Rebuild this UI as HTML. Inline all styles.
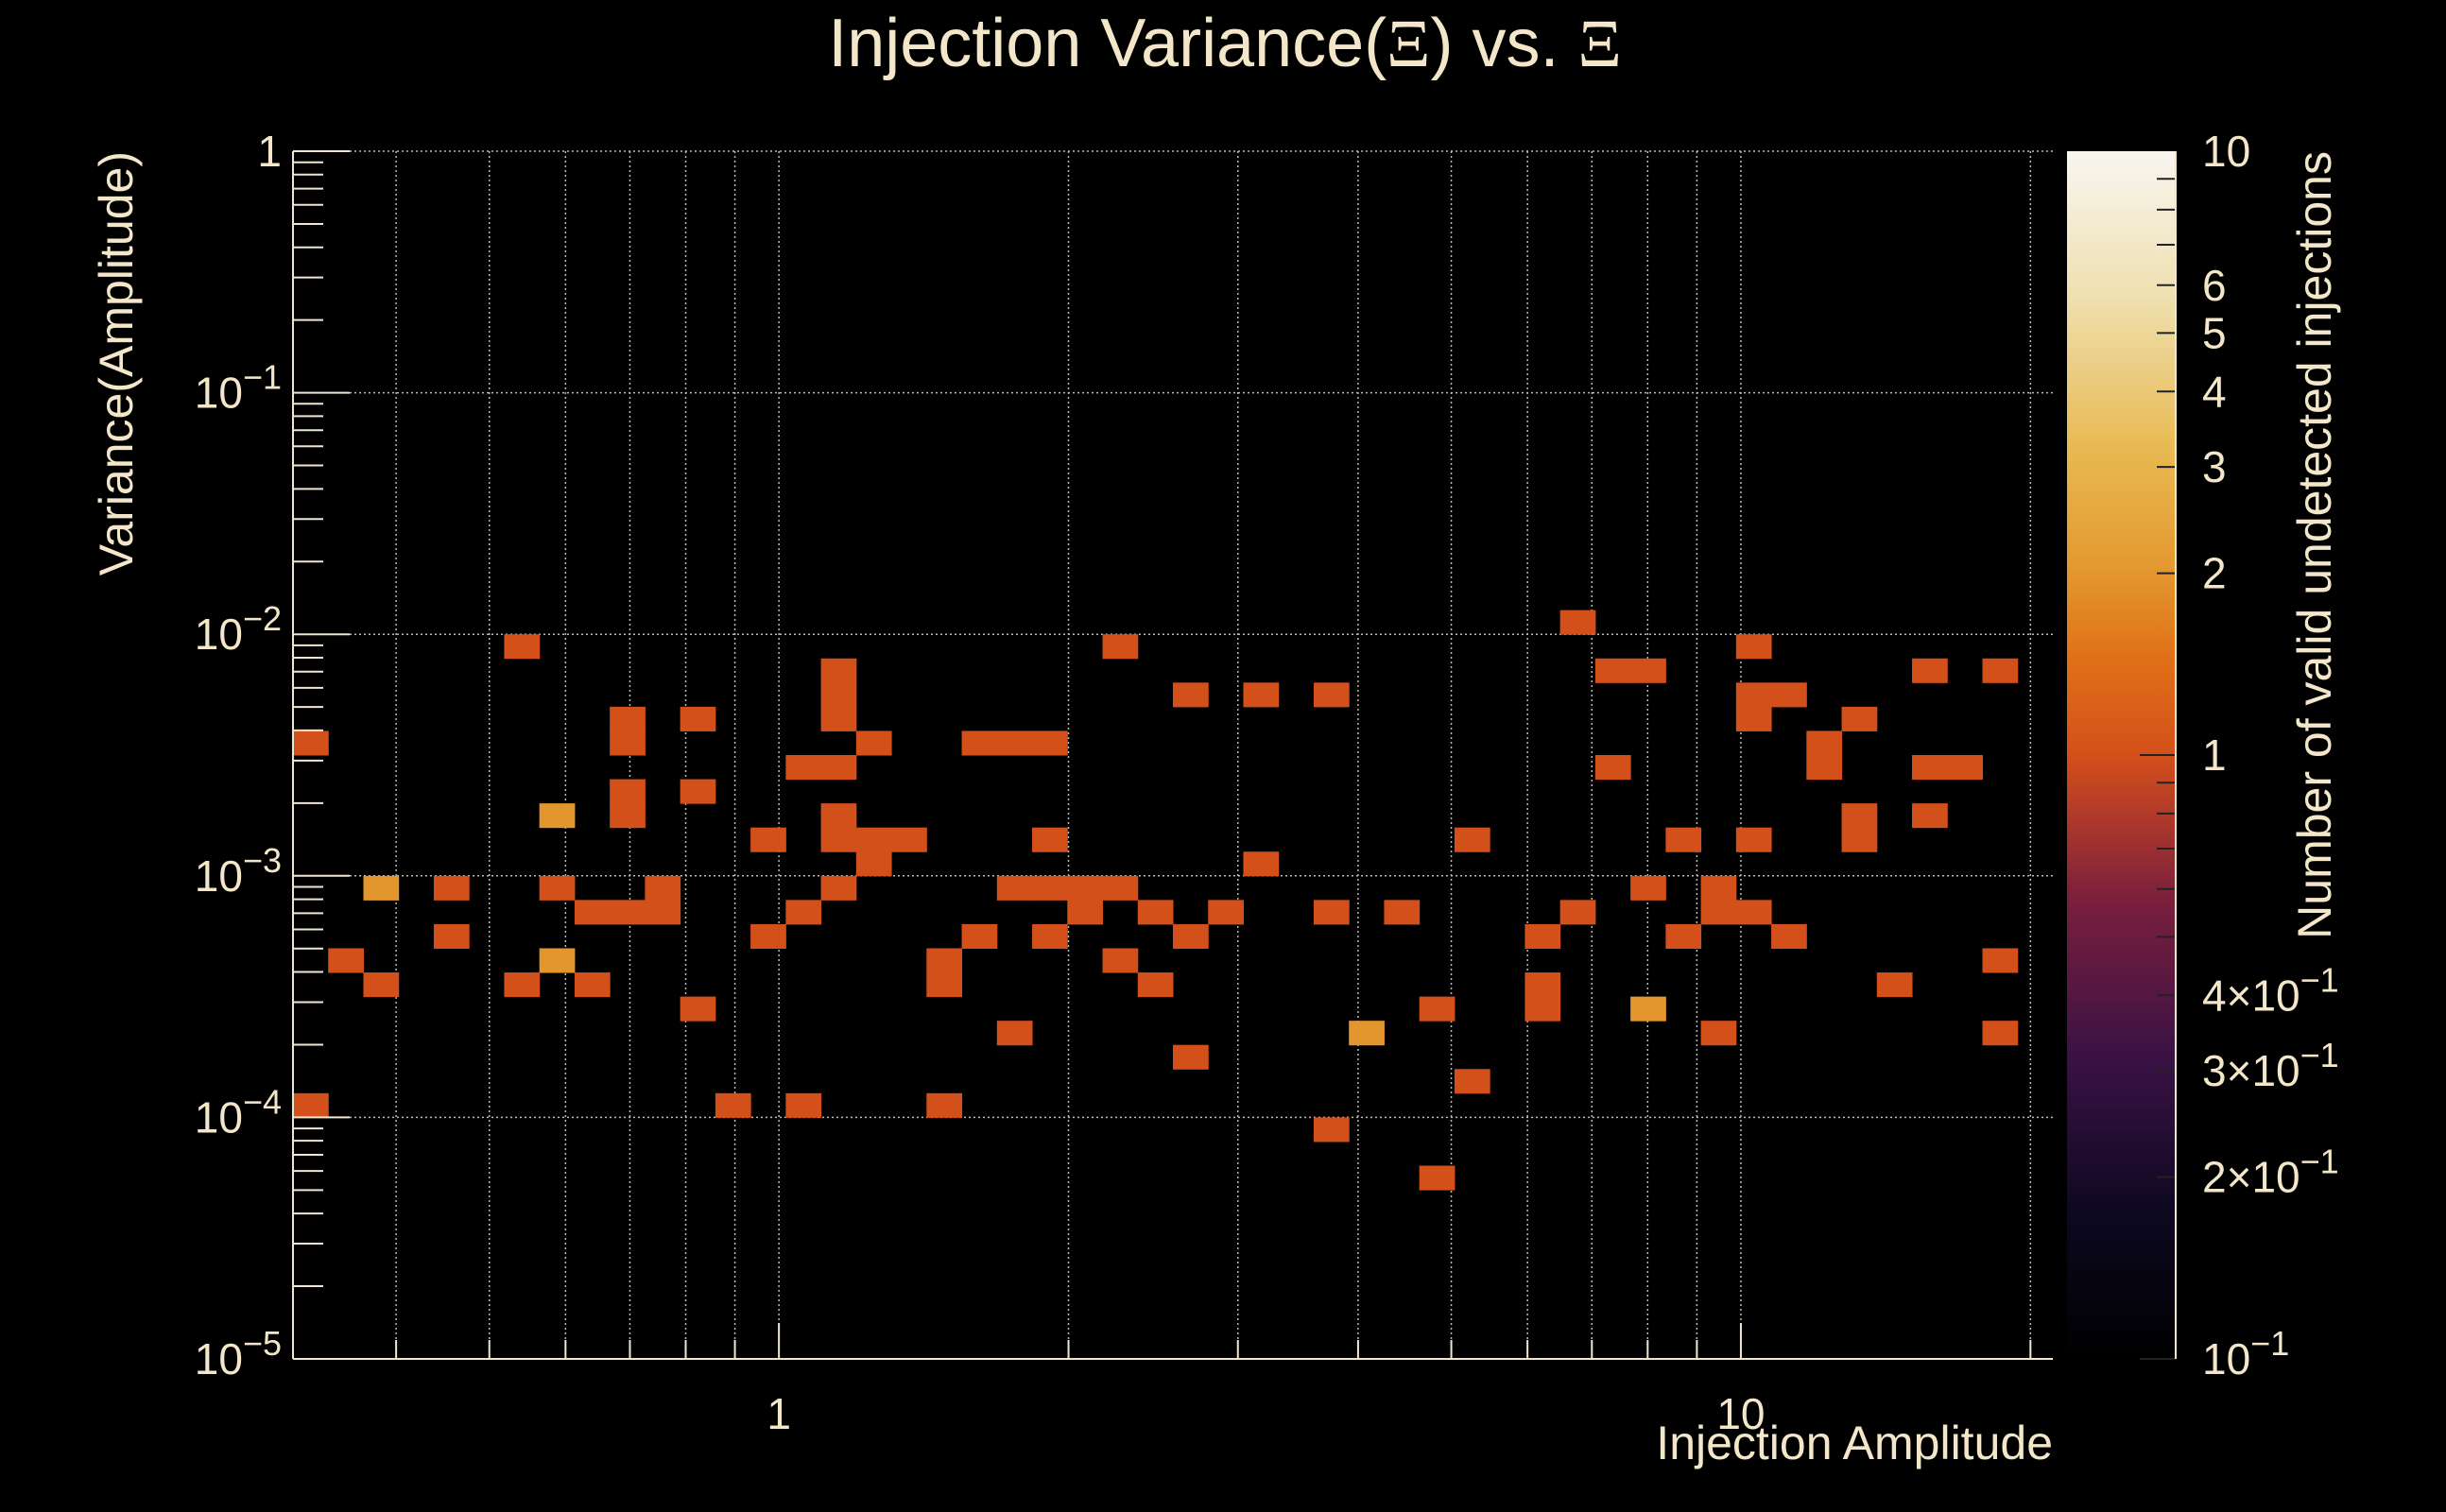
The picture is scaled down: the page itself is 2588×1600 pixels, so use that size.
<!DOCTYPE html>
<html><head><meta charset="utf-8">
<style>
html,body{margin:0;padding:0;background:#000;}
svg{display:block;}
text{font-family:"Liberation Sans",sans-serif;fill:#f3e6c9;}
</style></head>
<body>
<svg id="chart" width="2588" height="1600" viewBox="0 0 2588 1600" xmlns="http://www.w3.org/2000/svg">
<defs>
<linearGradient id="cbgrad" x1="0" y1="1" x2="0" y2="0">
<stop offset="0" stop-color="#000000"/>
<stop offset="0.12" stop-color="#0d0820"/>
<stop offset="0.25" stop-color="#3a1245"/>
<stop offset="0.38" stop-color="#7a1f3c"/>
<stop offset="0.45" stop-color="#b03a2a"/>
<stop offset="0.5" stop-color="#d4501a"/>
<stop offset="0.58" stop-color="#e07018"/>
<stop offset="0.65" stop-color="#e3962e"/>
<stop offset="0.75" stop-color="#e8b850"/>
<stop offset="0.88" stop-color="#efe0b0"/>
<stop offset="1" stop-color="#f8f6f0"/>
</linearGradient>
</defs>
<rect x="0" y="0" width="2588" height="1600" fill="#000"/>
<text x="1296" y="70" font-size="72" text-anchor="middle">Injection Variance(<tspan font-family="Liberation Serif">Ξ</tspan>) vs. <tspan font-family="Liberation Serif">Ξ</tspan></text>
<g id="grid"></g>
<g id="cells"></g>
<g id="axes"></g>
<rect x="2187" y="160" width="115" height="1278" fill="url(#cbgrad)"/>
<g id="cbaxis"></g>
<text x="2172" y="1544" font-size="50" text-anchor="end">Injection Amplitude</text>
<text transform="translate(140,160) rotate(-90)" font-size="50" text-anchor="end">Variance(Amplitude)</text>
<text transform="translate(2466,160) rotate(-90)" font-size="50" text-anchor="end">Number of valid undetected injections</text>
</svg>
<script>
// data: 50x50 log bins; x-bin index, y-bin index (from top), count
const xBin = [0,0,1,2,2,4,4,6,6,7,7,7,8,8,9,9,9,9,9,11,11,11,12,13,13,14,14,14,15,15,15,15,15,15,15,16,16,16,17,18,18,18,19,19,20,20,20,21,21,21,21,22,22,23,23,23,24,24,25,25,25,26,27,27,29,29,29,30,31,32,32,33,33,35,35,35,36,36,37,37,38,38,38,39,39,40,40,40,41,41,41,41,41,42,42,43,43,44,44,44,45,46,46,46,47,48,48,48,10,10];
const yBin = [24,39,33,30,34,30,32,20,34,27,30,33,31,34,23,24,26,27,31,23,26,35,39,28,32,25,31,39,21,22,23,25,27,28,30,24,28,29,28,33,34,39,24,32,24,30,36,24,28,30,32,30,31,20,30,33,31,34,22,32,37,31,22,29,22,31,40,36,31,35,42,28,38,32,34,35,19,31,21,25,21,30,35,28,32,30,31,36,20,22,23,28,31,22,32,24,25,23,27,28,34,21,25,27,25,21,33,36,30,31];
const counts = [1,1,1,2,1,1,1,1,1,2,1,2,1,1,1,1,1,1,1,1,1,1,1,1,1,1,1,1,1,1,1,1,1,1,1,1,1,1,1,1,1,1,1,1,1,1,1,1,1,1,1,1,1,1,1,1,1,1,1,1,1,1,1,1,1,1,1,2,1,1,1,1,1,1,1,1,1,1,1,1,1,1,2,1,1,1,1,1,1,1,1,1,1,1,1,1,1,1,1,1,1,1,1,1,1,1,1,1,1,1];
const xMajorTicks = [1,10];
const xMajorLabels = ["1","10"];
const yMajorTicks = [1,0.1,0.01,0.001,0.0001,0.00001];
const yMajorLabels = ["1","10^−1","10^−2","10^−3","10^−4","10^−5"];
const cbTicks = [10,6,5,4,3,2,1,0.4,0.3,0.2,0.1];
const cbLabels = ["10","6","5","4","3","2","1","4×10^−1","3×10^−1","2×10^−1","10^−1"];

const NS="http://www.w3.org/2000/svg";
const L=310,R=2172,T=160,B=1438,NB=50;
const xMin=Math.log10(0.3125), xMax=Math.log10(21.1);
const yMin=-5, yMax=0;
const xs=v=>L+(Math.log10(v)-xMin)/(xMax-xMin)*(R-L);
const ys=v=>B-(Math.log10(v)-yMin)/(yMax-yMin)*(B-T);
const cbs=v=>1438-(Math.log10(v)+1)/2*1278;
const bw=(R-L)/NB, bh=(B-T)/NB;
function mk(tag,attrs,parent){const e=document.createElementNS(NS,tag);for(const k in attrs)e.setAttribute(k,attrs[k]);parent.appendChild(e);return e;}
function colorFor(c){return c>=2?"#e3962e":"#d4501a";}
function setLabel(t,s){
 const p=s.split('^');
 t.appendChild(document.createTextNode(p[0]));
 if(p.length>1){const sp=document.createElementNS(NS,'tspan');sp.setAttribute('font-size','36');sp.setAttribute('dy','-20');sp.textContent=p[1];t.appendChild(sp);}
}

const grid=document.getElementById('grid');
const gx=[];
for(let d=-1;d<=1;d++)for(let m=1;m<=9;m++){const v=m*Math.pow(10,d);if(v>0.32&&v<21)gx.push(v);}
gx.forEach(v=>{const l=mk('line',{x1:xs(v),x2:xs(v),y1:T,y2:B,stroke:'#bbb','stroke-width':1.5,'stroke-dasharray':'2,3'},grid);

});
yMajorTicks.forEach(v=>{const l=mk('line',{x1:L,x2:R,y1:ys(v),y2:ys(v),stroke:'#bbb','stroke-width':1.5,'stroke-dasharray':'2,3'},grid);

});

const cells=document.getElementById('cells');
for(let i=0;i<xBin.length;i++){
 const x0=Math.pow(10,xMin+xBin[i]*(xMax-xMin)/NB), x1=Math.pow(10,xMin+(xBin[i]+1)*(xMax-xMin)/NB);
 const yT=Math.pow(10,yMax-yBin[i]*(yMax-yMin)/NB), yB=Math.pow(10,yMax-(yBin[i]+1)*(yMax-yMin)/NB);
 const r=mk('rect',{x:xs(x0),y:ys(yT),width:xs(x1)-xs(x0)+0.5,height:ys(yB)-ys(yT)+0.5,fill:colorFor(counts[i])},cells);
 
 
}

const axes=document.getElementById('axes');
mk('line',{x1:L,x2:L,y1:T,y2:B,stroke:'#f0e6d0','stroke-width':2},axes);
mk('line',{x1:L,x2:R,y1:B,y2:B,stroke:'#f0e6d0','stroke-width':2},axes);
for(let d=-5;d<0;d++)for(let m=1;m<=9;m++){const v=m*Math.pow(10,d);
 const t=mk('line',{x1:L,x2:L+(m===1?60:32),y1:ys(v),y2:ys(v),stroke:'#f0e6d0','stroke-width':2},axes);
 
 }
mk('line',{x1:L,x2:L+60,y1:ys(1),y2:ys(1),stroke:'#f0e6d0','stroke-width':2},axes);
yMajorTicks.forEach((v,i)=>{const t=mk('text',{x:L-12,y:ys(v)+16,'font-size':46,'text-anchor':'end'},axes);setLabel(t,yMajorLabels[i]);
 
 });
gx.forEach(v=>{const big=xMajorTicks.includes(v);mk('line',{x1:xs(v),x2:xs(v),y1:B,y2:B-(big?38:20),stroke:'#f0e6d0','stroke-width':2},axes);});
xMajorTicks.forEach((v,i)=>{const t=mk('text',{x:xs(v),y:1512,'font-size':46,'text-anchor':'middle'},axes);t.textContent=xMajorLabels[i];
 
 });

const cb=document.getElementById('cbaxis');
for(let d=-1;d<1;d++)for(let m=1;m<=9;m++){const v=m*Math.pow(10,d);
 mk('line',{x1:2302,x2:2302-(m===1?38:20),y1:cbs(v),y2:cbs(v),stroke:'#222','stroke-width':2},cb);}
mk('line',{x1:2302,x2:2302,y1:160,y2:1438,stroke:'#f0e6d0','stroke-width':2},cb);
cbTicks.forEach((v,i)=>{const t=mk('text',{x:2330,y:cbs(v)+16,'font-size':46},cb);setLabel(t,cbLabels[i]);
 
 });
</script>
</body></html>
